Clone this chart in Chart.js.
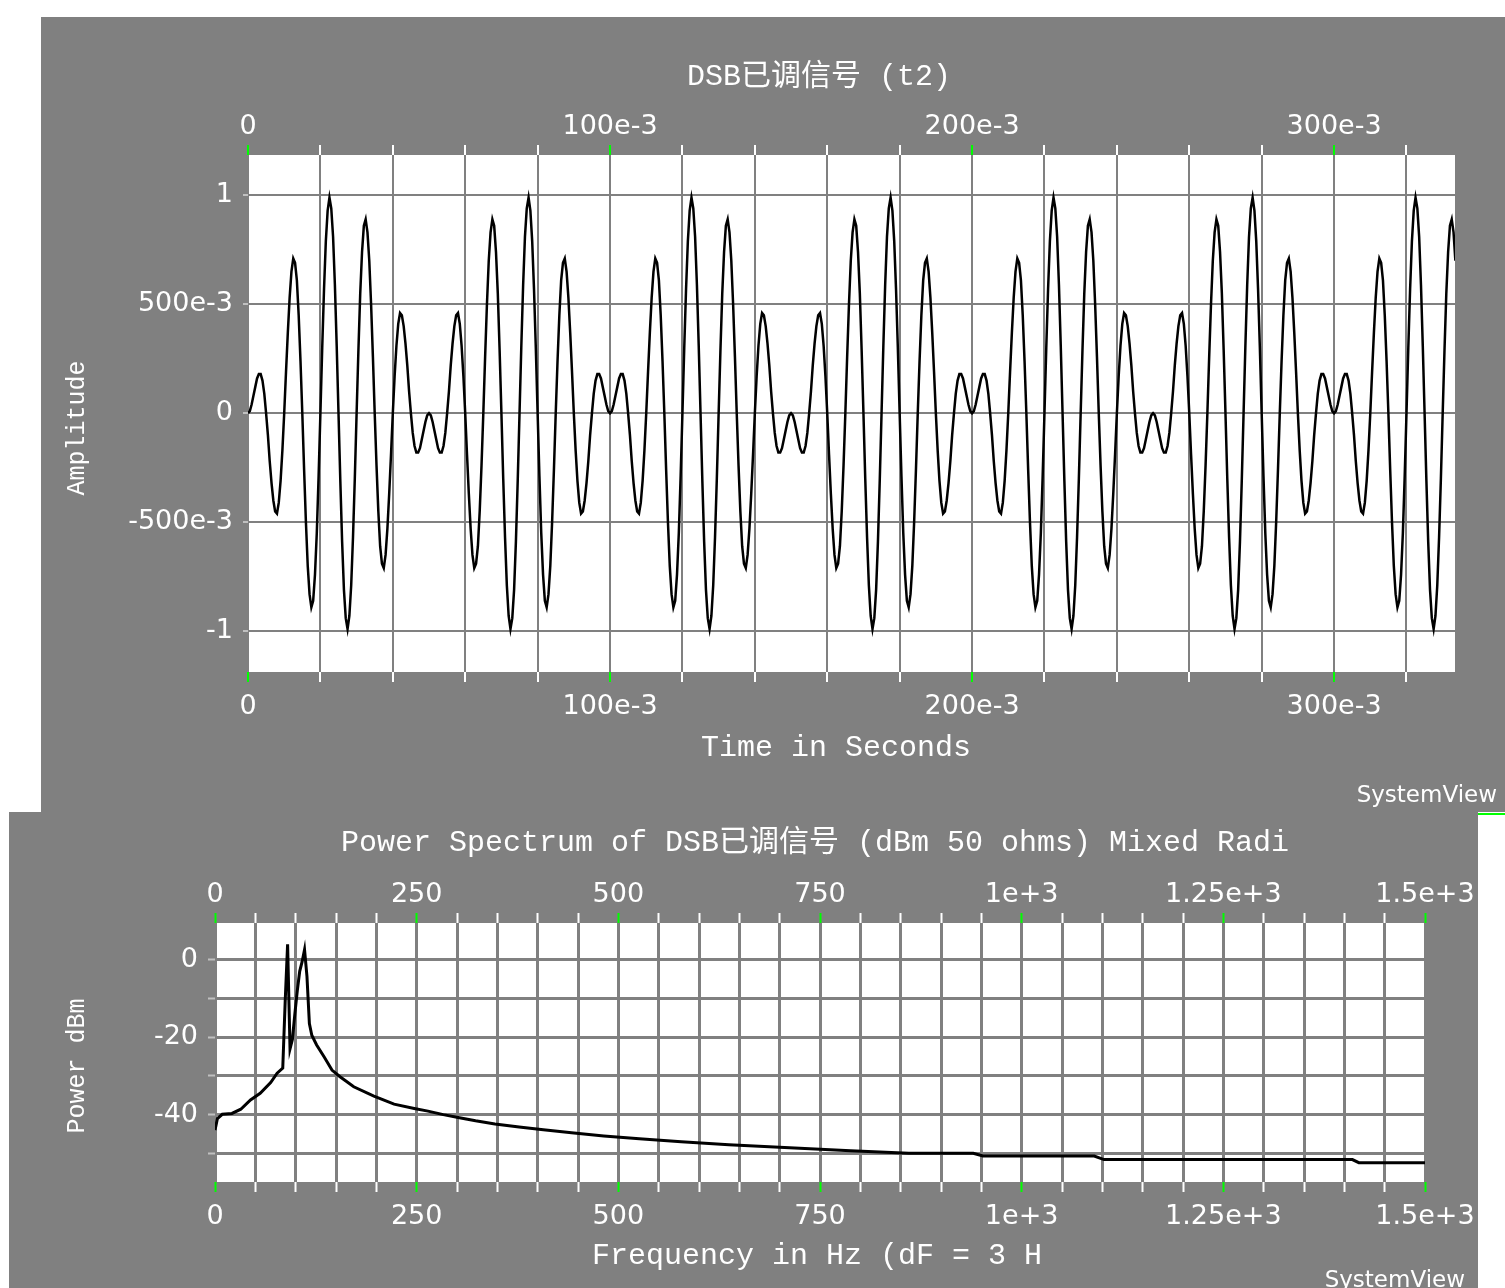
<!DOCTYPE html>
<html lang="zh">
<head>
<meta charset="UTF-8">
<title>DSB已调信号</title>
<script src="https://cdn.jsdelivr.net/npm/chart.js@4"></script>
<style>
  body { margin: 0; background: #fff; width: 1505px; height: 1288px; overflow: hidden; position: relative; }
  .panel { position: absolute; background: #808080; }
  #timePanel { left: 41px; top: 17px; width: 1464px; height: 795px; }
  #specPanel { left: 9px; top: 812px; width: 1469px; height: 476px; }
  #mark { position: absolute; left: 1478px; top: 813px; width: 27px; height: 2px; background: #00ff00; }
</style>
</head>
<body>
<div class="panel" id="timePanel"><canvas id="timeChart" width="1464" height="795"></canvas></div>
<div class="panel" id="specPanel"><canvas id="specChart" width="1469" height="476"></canvas></div>
<div id="mark"></div>
<script>
// time signal, one sample every 0.5 ms
const sampleStep = 0.5e-3;
const amplitude = [
  0,0.01,0.04,0.08,0.12,0.16,0.18,0.18,0.15,0.09,0,-0.1,-0.22,-0.32,-0.4,-0.45,-0.46,-0.41,-0.31,-0.17,
  0,0.19,0.37,0.53,0.65,0.71,0.69,0.61,0.45,0.24,0,-0.26,-0.5,-0.7,-0.83,-0.89,-0.86,-0.74,-0.55,-0.29,
  0,0.3,0.57,0.79,0.93,0.99,0.94,0.81,0.59,0.31,0,-0.31,-0.59,-0.81,-0.94,-0.99,-0.93,-0.79,-0.57,-0.3,
  0,0.29,0.55,0.74,0.86,0.89,0.83,0.7,0.5,0.26,0,-0.24,-0.45,-0.61,-0.69,-0.71,-0.65,-0.53,-0.37,-0.19,
  0,0.17,0.31,0.41,0.46,0.45,0.4,0.32,0.22,0.1,0,-0.09,-0.15,-0.18,-0.18,-0.16,-0.12,-0.08,-0.04,-0.01,
  0,-0.01,-0.04,-0.08,-0.12,-0.16,-0.18,-0.18,-0.15,-0.09,0,0.1,0.22,0.32,0.4,0.45,0.46,0.41,0.31,0.17,
  0,-0.19,-0.37,-0.53,-0.65,-0.71,-0.69,-0.61,-0.45,-0.24,0,0.26,0.5,0.7,0.83,0.89,0.86,0.74,0.55,0.29,
  0,-0.3,-0.57,-0.79,-0.93,-0.99,-0.94,-0.81,-0.59,-0.31,0,0.31,0.59,0.81,0.94,0.99,0.93,0.79,0.57,0.3,
  0,-0.29,-0.55,-0.74,-0.86,-0.89,-0.83,-0.7,-0.5,-0.26,0,0.24,0.45,0.61,0.69,0.71,0.65,0.53,0.37,0.19,
  0,-0.17,-0.31,-0.41,-0.46,-0.45,-0.4,-0.32,-0.22,-0.1,0,0.09,0.15,0.18,0.18,0.16,0.12,0.08,0.04,0.01,
  0,0.01,0.04,0.08,0.12,0.16,0.18,0.18,0.15,0.09,0,-0.1,-0.22,-0.32,-0.4,-0.45,-0.46,-0.41,-0.31,-0.17,
  0,0.19,0.37,0.53,0.65,0.71,0.69,0.61,0.45,0.24,0,-0.26,-0.5,-0.7,-0.83,-0.89,-0.86,-0.74,-0.55,-0.29,
  0,0.3,0.57,0.79,0.93,0.99,0.94,0.81,0.59,0.31,0,-0.31,-0.59,-0.81,-0.94,-0.99,-0.93,-0.79,-0.57,-0.3,
  0,0.29,0.55,0.74,0.86,0.89,0.83,0.7,0.5,0.26,0,-0.24,-0.45,-0.61,-0.69,-0.71,-0.65,-0.53,-0.37,-0.19,
  0,0.17,0.31,0.41,0.46,0.45,0.4,0.32,0.22,0.1,0,-0.09,-0.15,-0.18,-0.18,-0.16,-0.12,-0.08,-0.04,-0.01,
  0,-0.01,-0.04,-0.08,-0.12,-0.16,-0.18,-0.18,-0.15,-0.09,0,0.1,0.22,0.32,0.4,0.45,0.46,0.41,0.31,0.17,
  0,-0.19,-0.37,-0.53,-0.65,-0.71,-0.69,-0.61,-0.45,-0.24,0,0.26,0.5,0.7,0.83,0.89,0.86,0.74,0.55,0.29,
  0,-0.3,-0.57,-0.79,-0.93,-0.99,-0.94,-0.81,-0.59,-0.31,0,0.31,0.59,0.81,0.94,0.99,0.93,0.79,0.57,0.3,
  0,-0.29,-0.55,-0.74,-0.86,-0.89,-0.83,-0.7,-0.5,-0.26,0,0.24,0.45,0.61,0.69,0.71,0.65,0.53,0.37,0.19,
  0,-0.17,-0.31,-0.41,-0.46,-0.45,-0.4,-0.32,-0.22,-0.1,0,0.09,0.15,0.18,0.18,0.16,0.12,0.08,0.04,0.01,
  0,0.01,0.04,0.08,0.12,0.16,0.18,0.18,0.15,0.09,0,-0.1,-0.22,-0.32,-0.4,-0.45,-0.46,-0.41,-0.31,-0.17,
  0,0.19,0.37,0.53,0.65,0.71,0.69,0.61,0.45,0.24,0,-0.26,-0.5,-0.7,-0.83,-0.89,-0.86,-0.74,-0.55,-0.29,
  0,0.3,0.57,0.79,0.93,0.99,0.94,0.81,0.59,0.31,0,-0.31,-0.59,-0.81,-0.94,-0.99,-0.93,-0.79,-0.57,-0.3,
  0,0.29,0.55,0.74,0.86,0.89,0.83,0.7,0.5,0.26,0,-0.24,-0.45,-0.61,-0.69,-0.71,-0.65,-0.53,-0.37,-0.19,
  0,0.17,0.31,0.41,0.46,0.45,0.4,0.32,0.22,0.1,0,-0.09,-0.15,-0.18,-0.18,-0.16,-0.12,-0.08,-0.04,-0.01,
  0,-0.01,-0.04,-0.08,-0.12,-0.16,-0.18,-0.18,-0.15,-0.09,0,0.1,0.22,0.32,0.4,0.45,0.46,0.41,0.31,0.17,
  0,-0.19,-0.37,-0.53,-0.65,-0.71,-0.69,-0.61,-0.45,-0.24,0,0.26,0.5,0.7,0.83,0.89,0.86,0.74,0.55,0.29,
  0,-0.3,-0.57,-0.79,-0.93,-0.99,-0.94,-0.81,-0.59,-0.31,0,0.31,0.59,0.81,0.94,0.99,0.93,0.79,0.57,0.3,
  0,-0.29,-0.55,-0.74,-0.86,-0.89,-0.83,-0.7,-0.5,-0.26,0,0.24,0.45,0.61,0.69,0.71,0.65,0.53,0.37,0.19,
  0,-0.17,-0.31,-0.41,-0.46,-0.45,-0.4,-0.32,-0.22,-0.1,0,0.09,0.15,0.18,0.18,0.16,0.12,0.08,0.04,0.01,
  0,0.01,0.04,0.08,0.12,0.16,0.18,0.18,0.15,0.09,0,-0.1,-0.22,-0.32,-0.4,-0.45,-0.46,-0.41,-0.31,-0.17,
  0,0.19,0.37,0.53,0.65,0.71,0.69,0.61,0.45,0.24,0,-0.26,-0.5,-0.7,-0.83,-0.89,-0.86,-0.74,-0.55,-0.29,
  0,0.3,0.57,0.79,0.93,0.99,0.94,0.81,0.59,0.31,0,-0.31,-0.59,-0.81,-0.94,-0.99,-0.93,-0.79,-0.57,-0.3,
  0,0.29,0.55,0.74,0.86,0.89,0.83,0.7
];
const timeMin = 0, timeMax = 0.3334;
const timeGrid = [0,0.02,0.04,0.06,0.08,0.1,0.12,0.14,0.16,0.18,0.2,0.22,0.24,0.26,0.28,0.3,0.32];
const timeMajor = [0, 0.1, 0.2, 0.3];
const timeMajorLabels = ['0', '100e-3', '200e-3', '300e-3'];
const ampMin = -1.187, ampMax = 1.185;
const ampTicks = [-1, -0.5, 0, 0.5, 1];
const ampTickLabels = ['-1', '-500e-3', '0', '500e-3', '1'];

// power spectrum
const specFreq  = [0,3,9,21,32,44,56,69,77,84,87,90,93,96,99,102,105,108,111,114,
  117,120,126,135,145,155,172,197,222,247,264,283,303,323,347,377,407,442,482,526,
  578,637,706,788,860,940,952,1090,1102,1410,1418,1500];
const specPower = [-44,-41,-39.9,-39.7,-38.6,-36.2,-34.5,-31.7,-29.3,-28,-10.8,4,-23,-20.5,-14,-8,-3,-0.5,2.6,-4.3,
  -16.5,-19.5,-22,-25,-28.5,-30.2,-32.8,-35.2,-37.3,-38.4,-39.1,-40,-40.8,-41.6,-42.4,-43.2,-43.9,-44.7,-45.5,-46.2,
  -47,-47.8,-48.5,-49.3,-50,-50,-50.7,-50.7,-51.6,-51.6,-52.4,-52.4];
const freqMin = 0, freqMax = 1500;
const freqGrid = [0,50,100,150,200,250,300,350,400,450,500,550,600,650,700,750,800,850,900,950,
  1000,1050,1100,1150,1200,1250,1300,1350,1400,1450,1500];
const freqMajor = [0, 250, 500, 750, 1000, 1250, 1500];
const freqMajorLabels = ['0', '250', '500', '750', '1e+3', '1.25e+3', '1.5e+3'];
const powerMin = -57.4, powerMax = 9.5;
const powerTicks = [-50, -40, -30, -20, -10, 0];
const powerTickLabels = ['', '-40', '', '-20', '', '0'];

const tickFont = { family: '"DejaVu Sans", sans-serif', size: 27 };

function findTick(v, list) {
  return list.findIndex(m => Math.abs(m - v) < 1e-9);
}

function xAxis(pos, o) {
  return {
    type: 'linear', position: pos, min: o.min, max: o.max,
    afterBuildTicks: s => { s.ticks = o.grid.map(v => ({ value: v })); },
    afterFit: s => { s.height = o.size; s.paddingLeft = 0; s.paddingRight = 0; },
    border: { display: false },
    grid: {
      drawOnChartArea: pos === 'bottom',
      color: '#808080', lineWidth: o.lw,
      tickLength: 10, tickWidth: 2,
      tickColor: c => (c.tick && findTick(c.tick.value, o.major) >= 0) ? '#00ff00' : '#ffffff'
    },
    ticks: {
      autoSkip: false, maxRotation: 0, padding: pos === 'top' ? 2 : 9,
      color: '#ffffff', font: tickFont,
      callback: v => { const i = findTick(v, o.major); return i < 0 ? '' : o.labels[i]; }
    }
  };
}

function yAxis(o) {
  return {
    type: 'linear', position: 'left', min: o.min, max: o.max,
    afterBuildTicks: s => { s.ticks = o.ticks.map(v => ({ value: v })); },
    afterFit: s => { s.width = o.size; s.paddingTop = 0; s.paddingBottom = 0; },
    border: { display: false },
    grid: { color: '#808080', lineWidth: o.lw, tickLength: o.tl, tickWidth: 2, tickColor: '#c0c0c0' },
    ticks: {
      autoSkip: false, padding: 10, color: '#ffffff', font: tickFont,
      callback: v => { const i = findTick(v, o.ticks); return i < 0 ? '' : o.labels[i]; }
    }
  };
}

// white plot area + titles drawn on the panel
const panelText = {
  id: 'panelText',
  beforeDraw(chart) {
    const { ctx, chartArea: a } = chart;
    ctx.save();
    ctx.fillStyle = '#ffffff';
    ctx.fillRect(a.left, a.top, a.right - a.left, a.bottom - a.top);
    ctx.restore();
  },
  afterDraw(chart, args, o) {
    const ctx = chart.ctx;
    ctx.save();
    ctx.fillStyle = '#ffffff';
    ctx.textAlign = 'center';
    ctx.textBaseline = 'middle';
    ctx.font = '30px "Liberation Mono", "Noto Sans CJK SC", monospace';
    ctx.fillText(o.title, o.titleAt[0], o.titleAt[1]);
    ctx.fillText(o.xTitle, o.xTitleAt[0], o.xTitleAt[1]);
    ctx.font = '23px "DejaVu Sans", sans-serif';
    ctx.textAlign = 'right';
    ctx.fillText('SystemView', o.brandAt[0], o.brandAt[1]);
    ctx.translate(o.yTitleAt[0], o.yTitleAt[1]);
    ctx.rotate(-Math.PI / 2);
    ctx.textAlign = 'center';
    ctx.font = '25px "Liberation Mono", monospace';
    ctx.fillText(o.yTitle, 0, 0);
    ctx.restore();
  }
};

new Chart(document.getElementById('timeChart'), {
  type: 'line',
  data: {
    datasets: [{
      data: amplitude.map((v, i) => ({ x: i * sampleStep, y: v })),
      borderColor: '#000000', borderWidth: 2.5, pointRadius: 0, tension: 0,
      xAxisID: 'x', yAxisID: 'y'
    }]
  },
  options: {
    responsive: false, animation: false, events: [],
    layout: { padding: { top: 0, left: 0, right: 50, bottom: 0 } },
    plugins: {
      legend: { display: false }, tooltip: { enabled: false },
      panelText: {
        title: 'DSB已调信号 (t2)', titleAt: [778, 60],
        xTitle: 'Time in Seconds', xTitleAt: [795, 731],
        yTitle: 'Amplitude', yTitleAt: [36, 411],
        brandAt: [1456, 779]
      }
    },
    scales: {
      x: xAxis('bottom', { min: timeMin, max: timeMax, grid: timeGrid, major: timeMajor, labels: timeMajorLabels, size: 140, lw: 2 }),
      xTop: xAxis('top', { min: timeMin, max: timeMax, grid: timeGrid, major: timeMajor, labels: timeMajorLabels, size: 138, lw: 2 }),
      y: yAxis({ min: ampMin, max: ampMax, ticks: ampTicks, labels: ampTickLabels, size: 207, tl: 5, lw: 2 })
    }
  },
  plugins: [panelText]
});

new Chart(document.getElementById('specChart'), {
  type: 'line',
  data: {
    datasets: [{
      data: specFreq.map((f, i) => ({ x: f, y: specPower[i] })),
      borderColor: '#000000', borderWidth: 3, pointRadius: 0, tension: 0,
      xAxisID: 'x', yAxisID: 'y'
    }]
  },
  options: {
    responsive: false, animation: false, events: [],
    layout: { padding: { top: 0, left: 0, right: 53, bottom: 0 } },
    plugins: {
      legend: { display: false }, tooltip: { enabled: false },
      panelText: {
        title: 'Power Spectrum of DSB已调信号 (dBm 50 ohms) Mixed Radi', titleAt: [806, 31],
        xTitle: 'Frequency in Hz (dF = 3 H', xTitleAt: [808, 444],
        yTitle: 'Power dBm', yTitleAt: [68, 254],
        brandAt: [1456, 469]
      }
    },
    scales: {
      x: xAxis('bottom', { min: freqMin, max: freqMax, grid: freqGrid, major: freqMajor, labels: freqMajorLabels, size: 106, lw: 3 }),
      xTop: xAxis('top', { min: freqMin, max: freqMax, grid: freqGrid, major: freqMajor, labels: freqMajorLabels, size: 111, lw: 3 }),
      y: yAxis({ min: powerMin, max: powerMax, ticks: powerTicks, labels: powerTickLabels, size: 206, tl: 7, lw: 3 })
    }
  },
  plugins: [panelText]
});
</script>
</body>
</html>
